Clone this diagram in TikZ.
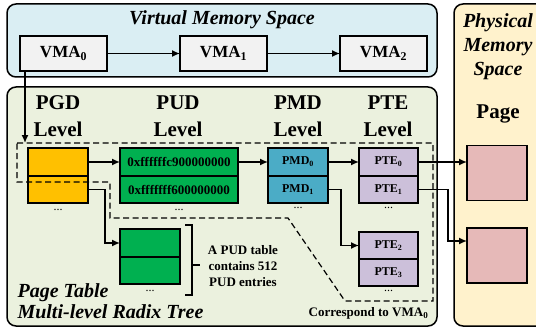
\documentclass[tikz,border=0pt]{standalone}
\usepackage{fontspec}
\setmainfont{Liberation Serif}
\usetikzlibrary{arrows.meta}
\definecolor{vmbg}{HTML}{DAEEF3}
\definecolor{ptbg}{HTML}{EBF1DE}
\definecolor{pmbg}{HTML}{FFF2CC}
\definecolor{vmafill}{HTML}{F2F2F2}
\definecolor{pgdfill}{HTML}{FFC000}
\definecolor{pudfill}{HTML}{00B050}
\definecolor{pmdfill}{HTML}{4BACC6}
\definecolor{ptefill}{HTML}{CCC0DA}
\definecolor{pagefill}{HTML}{E6B9B8}
\tikzset{space/.style={draw, line width=1.5pt, rounded corners=9pt},
 heading/.style={font=\fontsize{20}{24}\selectfont\bfseries\itshape},
 level/.style={align=center, font=\fontsize{21}{27}\selectfont\bfseries},
 entry/.style={draw, line width=1.6pt, inner sep=0pt, outer sep=0pt,
   minimum height=27.5pt, font=\fontsize{12}{14}\selectfont\bfseries},
 pgd/.style={entry, fill=pgdfill, minimum width=60pt},
 pud/.style={entry, fill=pudfill, minimum width=118pt, font=\fontsize{13}{14}\selectfont\bfseries},
 pmd/.style={entry, fill=pmdfill, minimum width=60pt},
 pte/.style={entry, fill=ptefill, minimum width=59pt},
 page/.style={entry, fill=pagefill, minimum width=60pt, minimum height=55pt},
 vma/.style={entry, fill=vmafill, minimum width=87pt, minimum height=35pt,
   font=\fontsize{17}{19}\selectfont\bfseries},
 dots/.style={font=\fontsize{12}{14}\selectfont},
 note/.style={align=center, font=\fontsize{13}{16}\selectfont\bfseries},
 link/.style={line width=1.5pt, -{Latex[length=8pt,width=7pt]}},
 region/.style={line width=1.2pt, dash pattern=on 6pt off 3.5pt},
 }

\begin{document}
\begin{tikzpicture}[x=1pt,y=-1pt]
        \useasboundingbox (0,0) rectangle (536,329);
        % the three memory areas
        \draw[space, fill=vmbg] (7,4) rectangle (437,77);
        \draw[space, fill=ptbg] (7,87) rectangle (437,326);
        \draw[space, fill=pmbg] (454,4) rectangle (548,326);
        \node[heading] at (222,20) {Virtual Memory Space};
        \node[heading, align=center] at (498,47) {Physical\\Memory\\Space};
        % virtual memory areas
        \node[vma] (vma0) at (63.5,53.5) {VMA\textsubscript{0}};
        \node[vma] (vma1) at (223.5,53.5) {VMA\textsubscript{1}};
        \node[vma] (vma2) at (383.5,53.5) {VMA\textsubscript{2}};
        \draw[link] (vma0) -- (vma1);
        \draw[link] (vma1) -- (vma2);
        % level titles
        \node[level] at (58,116.5) {PGD\\Level};
        \node[level] at (178,116.5) {PUD\\Level};
        \node[level] at (298,116.5) {PMD\\Level};
        \node[level] at (388,116.5) {PTE\\Level};
        \node[level] at (498,114) {Page};
        % tables
        \node[pgd] (pgd0) at (58,162) {};
        \node[pgd] (pgd1) at (58,189.5) {};
        \node[pud] (pud0) at (179,162) {0xffffffc900000000};
        \node[pud] (pud1) at (179,189.5) {0xfffffff600000000};
        \node[pmd] (pmd0) at (298,162) {PMD\textsubscript{0}};
        \node[pmd] (pmd1) at (298,189.5) {PMD\textsubscript{1}};
        \node[pte] (pte0) at (388.5,162) {PTE\textsubscript{0}};
        \node[pte] (pte1) at (388.5,189.5) {PTE\textsubscript{1}};
        \node[pte] (pte2) at (388.5,245.5) {PTE\textsubscript{2}};
        \node[pte] (pte3) at (388.5,272.5) {PTE\textsubscript{3}};
        \node[pud, minimum width=60pt] (pudb0) at (150,243) {};
        \node[pud, minimum width=60pt] (pudb1) at (150,270.5) {};
        \node[page] (page0) at (497,173) {};
        \node[page] (page1) at (497,255.5) {};
        \node[dots] at (58,210) {...};
        \node[dots] at (179,210) {...};
        \node[dots] at (298,208) {...};
        \node[dots] at (388.5,208) {...};
        \node[dots] at (388.5,291) {...};
        \node[dots] at (150,291) {...};
        % walk of VMA0
        \coordinate (pgdin) at (25,143);
        \draw[link] (vma0.south -| pgdin) -- (pgdin);
        \draw[link] (pgd0.east) -- (pud0.west);
        \draw[link] (pud0.east) -- (pmd0.west);
        \draw[link] (pmd0.east) -- (pte0.west);
        \draw[link] (pte0.east) -- (pte0.east -| page0.west);
        \draw[link] (pgd1.east) -- ++(17,0) |- (pudb0.west);
        \draw[link] (pmd1.east) -- ++(13,0) |- (pte2.west);
        \draw[link] (pte1.east) -- ++(30,0) |- ([yshift=14.5pt]page1.west);
        % path that belongs to VMA0
        \draw[region] (17,143) -- (433,143) -- (433,301) -- (345,301)
            -- (288,218) -- (110,218) -- (110,182) -- (17,182) -- cycle;
        % one PUD table
        \draw[line width=1.2pt] (185,225) -- (192,225) -- (192,295) -- (185,295);
        \draw[line width=1.2pt] (192,265) -- (200,265);
        \node[note] at (243,266) {A PUD table\\contains 512\\PUD entries};
        \node[heading, anchor=west, align=left, font=\fontsize{20}{21}\selectfont\bfseries\itshape]
            at (14,301.5) {Page Table\\Multi-level Radix Tree};
        \node[note] at (368.5,313) {Correspond to VMA\textsubscript{0}};
    \end{tikzpicture}
\end{document}
